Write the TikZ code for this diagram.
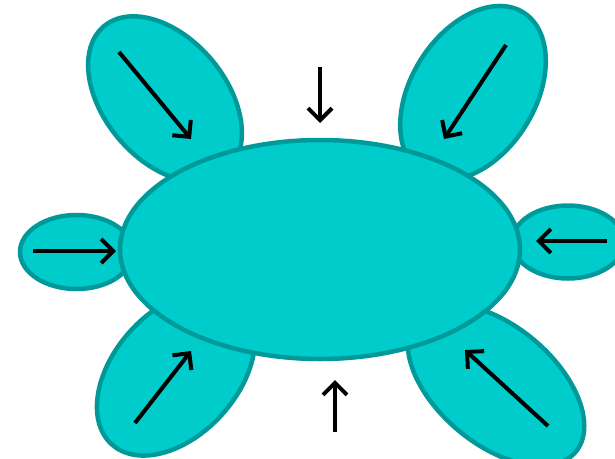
\documentclass[tikz,border=0pt]{standalone}
\usepackage{tikz}
\usetikzlibrary{shapes.geometric, arrows.meta}
\definecolor{petalfill}{RGB}{0,204,204}
\definecolor{petalline}{RGB}{0,153,153}

\begin{document}
\begin{tikzpicture}[x=1pt, y=-1pt,
        petal/.style={ellipse, draw=petalline, fill=petalfill, line width=4.5pt, inner sep=0pt},
        arr/.style={-{Straight Barb[length=12pt, width=24pt]}, line width=4pt, black}]
        % Page frame
        \clip (0, 0) rectangle (615, 458);

        % Small ellipses around the body
        \node[petal, minimum width=190, minimum height=122, rotate=-50] (petalTL) at (165, 99) {};
        \node[petal, minimum width=190, minimum height=124, rotate=58] (petalTR) at (473, 93) {};
        \node[petal, minimum width=113, minimum height=74] (petalL) at (76.5, 252) {};
        \node[petal, minimum width=112, minimum height=73] (petalR) at (568, 242) {};
        \node[petal, minimum width=192, minimum height=124, rotate=48] (petalBL) at (176, 373) {};
        \node[petal, minimum width=208, minimum height=118, rotate=-40] (petalBR) at (496, 385) {};

        % Big ellipse on top
        \node[petal, minimum width=400, minimum height=219] (body) at (320, 249.5) {};

        % Arrow ends
        \coordinate (tlA) at (119, 52);   \coordinate (tlB) at (191, 139);
        \coordinate (trA) at (506, 45);   \coordinate (trB) at (444, 139);
        \coordinate (tmA) at (320, 67);   \coordinate (tmB) at (320, 123);
        \coordinate (lA) at (33, 251);    \coordinate (lB) at (116, 251);
        \coordinate (rA) at (607, 241);   \coordinate (rB) at (536, 241);
        \coordinate (blA) at (135, 423);  \coordinate (blB) at (191, 351);
        \coordinate (bmA) at (335, 432);  \coordinate (bmB) at (335, 380);
        \coordinate (brA) at (548, 426);  \coordinate (brB) at (465, 350);

        % Arrows
        \draw[arr] (tlA) -- (tlB);
        \draw[arr] (trA) -- (trB);
        \draw[arr] (tmA) -- (tmB);
        \draw[arr] (lA) -- (lB);
        \draw[arr] (rA) -- (rB);
        \draw[arr] (blA) -- (blB);
        \draw[arr] (bmA) -- (bmB);
        \draw[arr] (brA) -- (brB);
    \end{tikzpicture}
\end{document}
